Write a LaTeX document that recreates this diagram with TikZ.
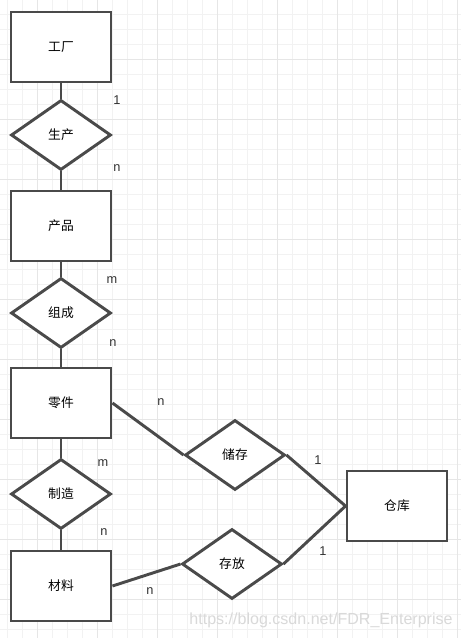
\documentclass[tikz,border=0pt]{standalone}
\usepackage{fontspec}
\setmainfont{Liberation Sans}
\newfontfamily\cjk{Noto Sans CJK SC}
\usetikzlibrary{shapes.geometric}
\definecolor{erline}{HTML}{4A4A4A}
\definecolor{gridminor}{HTML}{F2F2F2}
\definecolor{gridmajor}{HTML}{E6E6E6}
\tikzset{
  entity/.style={draw=erline, line width=2.5pt, fill=white, minimum width=3cm,
    minimum height=2.1cm, inner sep=0pt, font=\cjk\fontsize{10.9}{12}\selectfont},
  relation/.style={diamond, draw=erline, line width=2.5pt, fill=white, minimum width=3cm,
    minimum height=2.1cm, inner sep=0pt, font=\cjk\fontsize{10.9}{12}\selectfont},
  link/.style={draw=erline, line width=2.5pt},
  card/.style={text=black!80, font=\fontsize{10.9}{12}\selectfont, inner sep=0pt}
}

\begin{document}
\begin{tikzpicture}[x=0.03cm, y=-0.03cm]
	\useasboundingbox (0,0) rectangle (461,638);
	\fill[white] (0,0) rectangle (461,638);
	% grid
	\foreach \gx in {7,22,...,457} \draw[gridminor, line width=0.7pt] (\gx,0) -- (\gx,638);
	\foreach \gy in {14,29,...,629} \draw[gridminor, line width=0.7pt] (0,\gy) -- (461,\gy);
	\foreach \gx in {37,97,...,457} \draw[gridmajor, line width=0.7pt] (\gx,0) -- (\gx,638);
	\foreach \gy in {59,119,...,599} \draw[gridmajor, line width=0.7pt] (0,\gy) -- (461,\gy);

	% entities and relations
	\node[entity] (gongchang) at (61,47) {工厂};
	\node[relation] (shengchan) at (61,135) {生产};
	\node[entity] (chanpin) at (61,226) {产品};
	\node[relation] (zucheng) at (61,313) {组成};
	\node[entity] (lingjian) at (61,403) {零件};
	\node[relation] (zhizao) at (61,494) {制造};
	\node[entity] (cailiao) at (61,586) {材料};
	\node[relation] (chucun) at (235,455) {储存};
	\node[relation] (cunfang) at (232,564) {存放};
	\node[entity] (cangku) at (397,506) {仓库};

	% links
	\draw[link] (gongchang) -- (shengchan);
	\draw[link] (shengchan) -- (chanpin);
	\draw[link] (chanpin) -- (zucheng);
	\draw[link] (zucheng) -- (lingjian);
	\draw[link] (lingjian) -- (zhizao);
	\draw[link] (zhizao) -- (cailiao);
	\draw[link] (lingjian.east) -- (chucun.west);
	\draw[link] (chucun.east) -- (cangku.west);
	\draw[link] (cunfang.east) -- (cangku.west);
	\draw[link] (cailiao.east) -- (cunfang.west);

	% cardinalities
	\node[card] (c1) at (117,100) {1};
	\node[card] (c2) at (117,168) {n};
	\node[card] (c3) at (112,280) {m};
	\node[card] (c4) at (113,343) {n};
	\node[card] (c5) at (161,402) {n};
	\node[card] (c6) at (103,463) {m};
	\node[card] (c7) at (104,532) {n};
	\node[card] (c8) at (150,591) {n};
	\node[card] (c9) at (318,460) {1};
	\node[card] (c10) at (323,551) {1};

	\node[text=gray!30, font=\fontsize{13.7}{15}\selectfont, inner sep=0pt] (wmtext) at (321,620) {https://blog.csdn.net/FDR\_Enterprise};
\end{tikzpicture}
\end{document}
